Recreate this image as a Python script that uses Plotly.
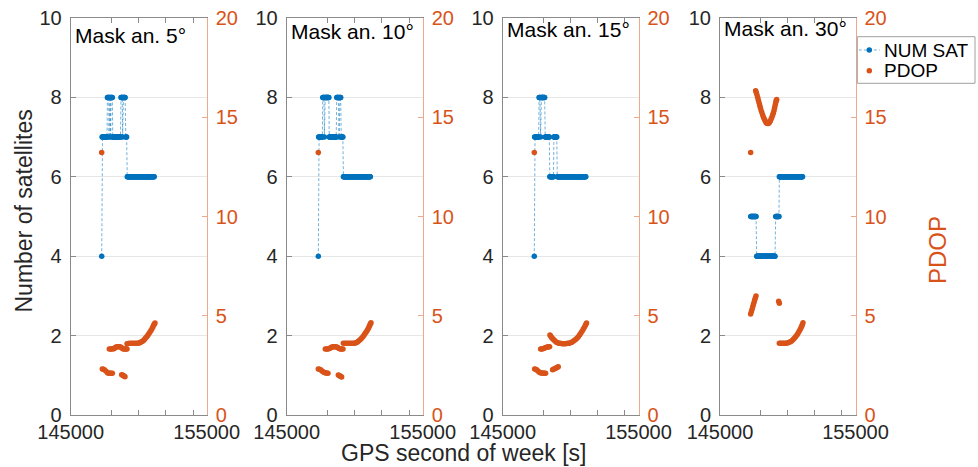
import numpy as np
import plotly.graph_objects as go

# ---------------------------------------------------------------------------
# Data
# ---------------------------------------------------------------------------
EPOCH = 30  # receiver epoch spacing [s]
MASKS = [5, 10, 15, 30]  # elevation mask angles [deg]
SERIES_NAMES = ["NUM SAT", "PDOP"]

# Visible satellites, as runs of constant count: (first epoch, last epoch, count)
sat_runs_5 = [
    (147280, 147280, 4), (147310, 147670, 7), (147700, 147790, 8), (147820, 147820, 7),
    (147850, 147910, 8), (147940, 147940, 7), (147970, 148060, 8), (148090, 148670, 7),
    (148700, 148790, 8), (148820, 148820, 7), (148850, 149020, 8), (149050, 149130, 7),
    (149160, 151150, 6),
]
sat_runs_10 = [
    (147326, 147326, 4), (147350, 147620, 7), (147650, 147740, 8), (147770, 147770, 7),
    (147800, 148100, 8), (148130, 148650, 7), (148680, 148820, 8), (148850, 148850, 7),
    (148880, 148980, 8), (149010, 149140, 7), (149170, 151150, 6),
]
sat_runs_15 = [
    (147326, 147326, 4), (147350, 147650, 7), (147680, 147760, 8), (147790, 147790, 7),
    (147820, 148100, 8), (148130, 148440, 7), (148470, 148740, 6), (148770, 148990, 7),
    (149020, 151120, 6),
]
sat_runs_30 = [
    (147270, 147680, 5), (147710, 149080, 4), (149110, 149350, 5), (149380, 151100, 6),
]

# PDOP samples: GPS second of week and value
pdop_t_5 = [147277,
            147326, 147400, 147473, 147600, 147718, 147800, 147890, 147975, 148061,
            148747, 148810, 148870, 148930, 148992,
            147840, 147926, 148012, 148098, 148184, 148258, 148331, 148417, 148502,
            148588, 148674, 148748, 148821, 148907, 148992, 149066, 149140,
            149140, 149250, 149360, 149480, 149605, 149730, 149850, 149950, 150046,
            150132, 150218, 150304, 150390, 150464, 150537, 150610, 150684, 150758,
            150831, 150905, 150978, 151040, 151100, 151150, 151198]
pdop_5 = [13.23,
          2.32, 2.30, 2.28, 2.20, 2.12, 2.11, 2.10, 2.10, 2.10,
          2.03, 2.01, 1.98, 1.96, 1.93,
          3.33, 3.33, 3.33, 3.34, 3.34, 3.39, 3.43, 3.44, 3.44,
          3.44, 3.43, 3.39, 3.34, 3.33, 3.33, 3.33, 3.33,
          3.59, 3.60, 3.61, 3.61, 3.61, 3.61, 3.61, 3.62, 3.63,
          3.66, 3.69, 3.73, 3.78, 3.84, 3.90, 3.96, 4.03, 4.10,
          4.18, 4.26, 4.35, 4.43, 4.52, 4.58, 4.63]

pdop_t_10 = [147326,
             147326, 147410, 147497, 147595, 147693, 147780, 147865, 147950, 148036,
             148796, 148858, 148919, 148980, 149041,
             147840, 147926, 148012, 148098, 148184, 148258, 148331, 148417, 148502,
             148588, 148674, 148748, 148821, 148895, 148968, 149054, 149139,
             149164, 149286, 149409, 149532, 149654, 149776, 149899, 149997, 150095,
             150181, 150267, 150352, 150438, 150524, 150610, 150684, 150757, 150830,
             150904, 150966, 151027, 151076, 151125, 151160, 151198]
pdop_10 = [13.23,
           2.32, 2.30, 2.28, 2.22, 2.17, 2.14, 2.12, 2.11, 2.10,
           2.01, 1.99, 1.96, 1.94, 1.91,
           3.33, 3.33, 3.33, 3.34, 3.36, 3.40, 3.43, 3.44, 3.44,
           3.44, 3.43, 3.40, 3.36, 3.34, 3.33, 3.33, 3.33,
           3.61, 3.61, 3.61, 3.61, 3.61, 3.61, 3.61, 3.62, 3.64,
           3.67, 3.71, 3.76, 3.81, 3.88, 3.95, 4.02, 4.10, 4.17,
           4.25, 4.32, 4.40, 4.47, 4.55, 4.60, 4.65]

pdop_t_15 = [147326,
             147350, 147424, 147497, 147595, 147693, 147766, 147840, 147926, 148012, 148086, 148159,
             148674, 148748, 148821, 148895, 148968, 149030, 149090,
             147791, 147877, 147963, 148049, 148134, 148220, 148306, 148380, 148453,
             148478, 148539, 148600, 148662, 148723, 148796, 148870, 148955, 149041,
             149127, 149213, 149311, 149409, 149507, 149605, 149703, 149801, 149899,
             149997, 150095, 150193, 150291, 150389, 150487, 150585, 150671, 150757,
             150843, 150929, 151002, 151076, 151125, 151174]
pdop_15 = [13.23,
           2.32, 2.30, 2.28, 2.22, 2.15, 2.13, 2.12, 2.11, 2.10, 2.10, 2.10,
           2.28, 2.30, 2.33, 2.36, 2.38, 2.41, 2.43,
           3.33, 3.33, 3.34, 3.36, 3.39, 3.41, 3.43, 3.44, 3.44,
           4.03, 3.97, 3.91, 3.86, 3.81, 3.76, 3.71, 3.67, 3.64,
           3.62, 3.61, 3.60, 3.59, 3.59, 3.59, 3.60, 3.61, 3.62,
           3.64, 3.67, 3.71, 3.76, 3.81, 3.88, 3.96, 4.04, 4.13,
           4.22, 4.32, 4.41, 4.50, 4.57, 4.63]

pdop_t_30 = [147263,
             147632, 147682, 147731, 147780, 147829, 147878, 147927, 147976, 148026,
             148088, 148149, 148211, 148272, 148334, 148395, 148456, 148518,
             148580, 148641, 148703, 148764, 148826, 148887, 148936, 148985,
             149022, 149059, 149096, 149133, 149158, 149182,
             147263, 147312, 147362, 147411, 147460, 147509, 147558, 147608, 147657,
             149330, 149379,
             149379, 149478, 149576, 149674, 149772, 149870, 149969, 150068, 150166,
             150265, 150363, 150449, 150535, 150621, 150707, 150781, 150855, 150917,
             150978, 151027, 151076, 151125]
pdop_30 = [13.23,
           16.34, 16.23, 16.12, 16.00, 15.87, 15.74, 15.62, 15.49, 15.37,
           15.24, 15.11, 15.00, 14.90, 14.82, 14.74, 14.70, 14.68,
           14.69, 14.73, 14.80, 14.90, 15.00, 15.11, 15.22, 15.33,
           15.45, 15.57, 15.68, 15.79, 15.85, 15.90,
           5.09, 5.20, 5.32, 5.44, 5.56, 5.67, 5.79, 5.90, 6.00,
           5.73, 5.63,
           3.61, 3.61, 3.61, 3.62, 3.61, 3.62, 3.63, 3.65, 3.68,
           3.72, 3.78, 3.84, 3.91, 3.98, 4.06, 4.14, 4.23, 4.31,
           4.40, 4.47, 4.55, 4.65]

SAT_RUNS = [sat_runs_5, sat_runs_10, sat_runs_15, sat_runs_30]
PDOP_T = [pdop_t_5, pdop_t_10, pdop_t_15, pdop_t_30]
PDOP = [pdop_5, pdop_10, pdop_15, pdop_30]

X_RANGE = [145000, 155000]
X_TICKS = [145000, 148000, 150000, 152000, 154000, 155000]
X_TICKTEXT = ["145000", "", "", "", "", "155000"]

# ---------------------------------------------------------------------------
# Styling
# ---------------------------------------------------------------------------
FONT = "Liberation Sans, Arial, Helvetica, sans-serif"
BLUE = "#0072BD"
BLUE_LINE = "rgba(0,114,189,0.55)"
ORANGE = "#D95319"
ORANGE_AXIS = "rgba(217,83,25,0.5)"
AXIS_GREY = "#8a8a8a"
TEXT = "#262626"
W, H = 978, 467
MARKER = 5.5
TICK_SIZE = 20

# panel boxes in pixels (left, right); common top / bottom
PANEL_PX = [(70.7, 206.7), (286.7, 422.7), (502.7, 638.5), (720.0, 855.5)]
TOP_PX, BOTTOM_PX = 18.0, 415.0
TITLE_DY = [4, 0, -2, -3]  # vertical offset of each panel caption

# legend box (pixels): left, top, right, bottom; row centres
LEG_BOX = (857.3, 36.7, 975.0, 83.3)
LEG_ROWS = (50.0, 70.7)
LEG_SYMBOL_X = 869.3
LEG_TEXT_X = 881.7


def px_x(v):
    return v / W


def px_y(v):
    return 1 - v / H


def expand(runs):
    t, n = [], []
    for first, last, count in runs:
        epochs = np.arange(first, last + 1, EPOCH)
        t.extend(epochs.tolist())
        n.extend([count] * len(epochs))
    return t, n


fig = go.Figure()
layout = dict(
    width=W, height=H,
    margin=dict(l=0, r=0, t=0, b=0, autoexpand=False),
    paper_bgcolor="white", plot_bgcolor="white",
    font=dict(family=FONT, size=TICK_SIZE, color=TEXT),
    showlegend=False,
    annotations=[],
    shapes=[],
)

ydom = [px_y(BOTTOM_PX), px_y(TOP_PX)]

for i, mask in enumerate(MASKS):
    k = i + 1
    xa = "x" if k == 1 else f"x{k}"
    yl_id = 2 * i + 1
    yr_id = 2 * i + 2
    yl = "y" if yl_id == 1 else f"y{yl_id}"
    yr = f"y{yr_id}"
    left, right = PANEL_PX[i]

    layout["xaxis" if k == 1 else f"xaxis{k}"] = dict(
        domain=[px_x(left), px_x(right)], anchor=yl, automargin=False,
        range=X_RANGE, tickvals=X_TICKS, ticktext=X_TICKTEXT,
        ticks="inside", ticklen=5, tickcolor=AXIS_GREY,
        showline=True, linecolor=AXIS_GREY, linewidth=1, mirror="ticks",
        showgrid=False, zeroline=False,
        tickfont=dict(size=TICK_SIZE, color=TEXT), ticklabelstandoff=-1,
    )
    layout["yaxis" if yl_id == 1 else f"yaxis{yl_id}"] = dict(
        domain=ydom, anchor=xa, range=[0, 10], tickvals=[0, 2, 4, 6, 8, 10],
        automargin=False,
        ticks="inside", ticklen=5, tickcolor=AXIS_GREY,
        showline=True, linecolor=AXIS_GREY, linewidth=1,
        showgrid=True, gridcolor="#e6e6e6", gridwidth=1, zeroline=False,
        tickfont=dict(size=TICK_SIZE, color=TEXT), ticklabelstandoff=4,
    )
    layout[f"yaxis{yr_id}"] = dict(
        domain=ydom, anchor=xa, overlaying=yl, side="right",
        range=[0, 20], tickvals=[0, 5, 10, 15, 20], automargin=False,
        ticks="inside", ticklen=5, tickcolor=ORANGE_AXIS,
        showline=True, linecolor=ORANGE_AXIS, linewidth=1,
        showgrid=False, zeroline=False,
        tickfont=dict(size=TICK_SIZE, color=ORANGE), ticklabelstandoff=4,
    )

    t_sat, n_sat = expand(SAT_RUNS[i])
    fig.add_trace(go.Scatter(
        x=t_sat, y=n_sat, xaxis=xa, yaxis=yl, name=SERIES_NAMES[0],
        mode="lines+markers",
        line=dict(color=BLUE_LINE, width=1, dash="3px,2px"),
        marker=dict(color=BLUE, size=MARKER, line=dict(width=0)),
    ))
    fig.add_trace(go.Scatter(
        x=PDOP_T[i], y=PDOP[i], xaxis=xa, yaxis=yr, name=SERIES_NAMES[1],
        mode="markers",
        marker=dict(color=ORANGE, size=MARKER, line=dict(width=0)),
    ))

    layout["annotations"].append(dict(
        text=f"Mask an. {mask}°", xref=f"{xa} domain", yref=f"{yl} domain",
        x=0, y=1, xanchor="left", yanchor="top", xshift=2, yshift=-TITLE_DY[i],
        showarrow=False, font=dict(family=FONT, size=21, color="black"),
    ))

# axis titles
layout["annotations"] += [
    dict(text="Number of satellites", xref="paper", yref="paper",
         x=px_x(23), y=px_y(211.5), xanchor="center", yanchor="middle",
         textangle=-90, showarrow=False, font=dict(size=23, color=TEXT)),
    dict(text="PDOP", xref="paper", yref="paper",
         x=px_x(937), y=px_y(250), xanchor="center", yanchor="middle",
         textangle=-90, showarrow=False, font=dict(size=24, color=ORANGE)),
    dict(text="GPS second of week [s]", xref="paper", yref="paper",
         x=px_x(463), y=px_y(453), xanchor="center", yanchor="middle",
         showarrow=False, font=dict(size=23, color=TEXT)),
]

# legend: framed box with one row per series
x0, y0, x1, y1 = LEG_BOX
layout["shapes"].append(dict(
    type="rect", xref="paper", yref="paper",
    x0=px_x(x0), x1=px_x(x1), y0=px_y(y1), y1=px_y(y0),
    line=dict(color="#a0a0a0", width=1), fillcolor="white", layer="above",
))
layout["shapes"].append(dict(
    type="line", xref="paper", yref="paper",
    x0=px_x(x0 + 1.5), x1=px_x(LEG_TEXT_X - 2), y0=px_y(LEG_ROWS[0]), y1=px_y(LEG_ROWS[0]),
    line=dict(color=BLUE_LINE, width=1, dash="3px,2px"), layer="above",
))
r = MARKER / 2
for row, color in zip(LEG_ROWS, [BLUE, ORANGE]):
    layout["shapes"].append(dict(
        type="circle", xref="paper", yref="paper",
        x0=px_x(LEG_SYMBOL_X - r), x1=px_x(LEG_SYMBOL_X + r),
        y0=px_y(row + r), y1=px_y(row - r),
        line=dict(width=0), fillcolor=color, layer="above",
    ))
for row, name in zip(LEG_ROWS, SERIES_NAMES):
    layout["annotations"].append(dict(
        text=name, xref="paper", yref="paper",
        x=px_x(LEG_TEXT_X), y=px_y(row), xanchor="left", yanchor="middle",
        showarrow=False, font=dict(size=19, color="black"),
    ))

fig.update_layout(**layout)
fig.write_html("out.html")
